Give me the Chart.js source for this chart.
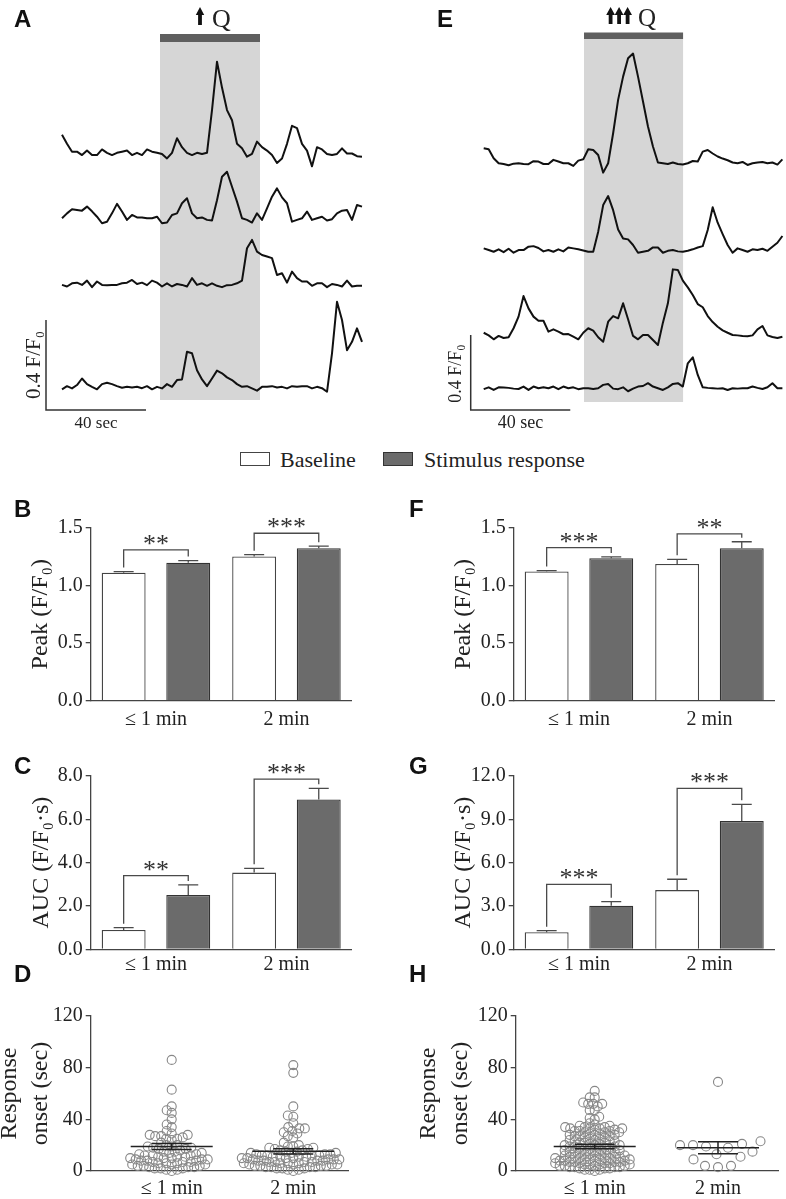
<!DOCTYPE html>
<html>
<head>
<meta charset="utf-8">
<title>Calcium responses to Q</title>
<script src="https://cdn.jsdelivr.net/npm/chart.js@4/dist/chart.umd.min.js"></script>
<style>
  html, body { margin: 0; padding: 0; background: #fff; }
  #fig { position: relative; width: 786px; height: 1199px; overflow: hidden; font-family: "Liberation Serif", "Times New Roman", serif; color: #222; }
  #fig canvas { position: absolute; }
  .tag { position: absolute; font: bold 24px "Liberation Sans", Arial, sans-serif; line-height: 24px; color: #111; }
  .key { position: absolute; top: 449px; font-size: 22px; line-height: 22px; white-space: nowrap; }
  .swatch { position: absolute; top: 452px; width: 30px; height: 14px; box-sizing: border-box; }
</style>
</head>
<body>
<div id="fig">
  <canvas id="tracesWeak" width="393" height="440" style="left:0;top:0"></canvas>
  <canvas id="tracesStrong" width="393" height="440" style="left:393px;top:0"></canvas>
  <canvas id="peakWeak" width="393" height="240" style="left:0;top:490px"></canvas>
  <canvas id="peakStrong" width="393" height="240" style="left:393px;top:490px"></canvas>
  <canvas id="aucWeak" width="393" height="240" style="left:0;top:740px"></canvas>
  <canvas id="aucStrong" width="393" height="240" style="left:393px;top:740px"></canvas>
  <canvas id="onsetWeak" width="393" height="214" style="left:0;top:985px"></canvas>
  <canvas id="onsetStrong" width="393" height="214" style="left:393px;top:985px"></canvas>

  <div class="tag" style="left:14px;top:7px">A</div>
  <div class="tag" style="left:437px;top:7px">E</div>
  <div class="tag" style="left:14px;top:497px">B</div>
  <div class="tag" style="left:409px;top:497px">F</div>
  <div class="tag" style="left:14px;top:754px">C</div>
  <div class="tag" style="left:409px;top:754px">G</div>
  <div class="tag" style="left:14px;top:962px">D</div>
  <div class="tag" style="left:409px;top:962px">H</div>

  <div class="swatch" style="left:240px;background:#fff;border:1.3px solid #444"></div>
  <div class="key" style="left:280px">Baseline</div>
  <div class="swatch" style="left:383px;background:#6b6b6b;border:1.3px solid #333"></div>
  <div class="key" style="left:424px">Stimulus response</div>
</div>

<script>
// ---- data ----

const groups = ['≤ 1 min', '2 min'];

// trace sample clock (sec)
const sampleTimes = [0, 2, 4, 6, 8, 10, 12, 14, 16, 18, 20, 22, 24, 26, 28, 30, 32, 34, 36, 38, 40,
  42, 44, 46, 48, 50, 52, 54, 56, 58, 60, 62, 64, 66, 68, 70, 72, 74, 76, 78, 80,
  82, 84, 86, 88, 90, 92, 94, 96, 98, 100, 102, 104, 106, 108, 110, 112, 114, 116, 118, 120];

// A: weak Q, dF/F0 of four cells
const traceA1 = [0.09, 0.05, 0.015, 0.015, 0, 0.02, 0, 0, 0.025, 0.01, 0, 0.01, 0.015, 0.02, 0, 0.01, 0, 0.025, 0.015, 0.01,
  0.005, -0.015, 0.01, 0.075, 0.035, 0.01, 0, 0.01, 0.005, 0.01, 0.2, 0.415, 0.3, 0.2, 0.155, 0.05, 0.03, -0.007, 0.005, 0.06,
  0.035, 0.02, 0, -0.035, -0.015, 0.05, 0.13, 0.12, 0.05, 0.02, -0.05, 0.035, 0.025, 0.005, 0, 0.005, 0.03, 0.007, 0.007, -0.005, -0.007];
const traceA2 = [0, 0.022, 0.04, 0.037, 0.034, 0.052, 0.031, 0.007, -0.022, -0.015, 0.022, 0.064, 0.03, -0.007, 0.015, 0.004, 0.004, 0, 0, 0.007,
  -0.022, -0.019, 0.015, 0.022, 0.067, 0.089, 0.022, 0, 0.004, -0.007, -0.01, 0.08, 0.185, 0.207, 0.14, 0.074, 0, -0.007, -0.019, 0.022,
  -0.007, 0.044, 0.096, 0.133, 0.093, 0.067, -0.015, -0.007, 0, 0.03, -0.007, 0, 0.007, -0.01, -0.004, 0.022, 0.034, 0.037, -0.007, 0.059, 0.052];
const traceA3 = [0, -0.007, 0.007, 0.01, 0, 0.019, -0.01, 0.015, 0, -0.001, 0, 0, 0.007, 0.01, 0.022, 0.004, 0.01, -0.001, 0.019, 0.01,
  -0.007, 0.007, -0.007, 0.004, 0, -0.007, 0.03, 0, 0.007, -0.004, 0.007, -0.004, -0.01, -0.001, 0, 0.007, 0.019, 0.163, 0.2, 0.148,
  0.133, 0.126, 0.119, 0.044, 0.052, 0.01, 0.059, 0.03, 0.015, 0.015, -0.004, 0.007, 0.007, -0.01, 0.004, 0, -0.007, 0.019, -0.007, -0.004, -0.004];
const traceA4 = [-0.004, 0.01, 0, 0.015, 0.044, 0.019, 0.007, -0.004, 0.019, 0.025, 0.019, 0.01, 0.003, 0.007, 0.004, 0.007, 0.001, 0.01, -0.004, 0.007,
  0, 0.019, 0.007, 0.037, 0.04, 0.163, 0.156, 0.081, 0.04, 0.01, 0.044, 0.079, 0.067, 0.049, 0.037, 0.019, 0.007, 0.01, 0, -0.01,
  0.007, 0.007, 0.01, 0.004, 0.007, 0, 0.01, 0.007, 0.01, 0.01, 0, 0.007, 0.001, -0.015, 0.156, 0.385, 0.304, 0.17, 0.207, 0.267, 0.207];

// E: strong Q
const traceE1 = [0.08, 0.075, 0.027, 0, -0.004, -0.011, -0.002, 0, -0.004, -0.005, 0.011, 0.009, -0.004, -0.004, 0.018, 0.009, 0, 0, -0.014, 0.014,
  0.021, 0.075, 0.071, 0.044, -0.05, 0, 0.16, 0.338, 0.462, 0.56, 0.585, 0.462, 0.329, 0.196, 0.089, 0.004, 0, -0.004, 0.004, -0.004,
  -0.007, 0, 0.012, 0.009, 0.062, 0.071, 0.052, 0.036, 0.025, 0.016, 0.004, 0, 0.007, -0.009, 0, 0.004, 0.007, 0, 0.004, -0.007, 0.021];
const traceE2 = [0.009, 0, -0.009, 0.004, -0.011, 0.007, -0.014, 0, 0, 0.018, 0.021, 0.011, -0.007, 0, -0.009, 0.004, -0.007, 0.014, 0.009, 0.004,
  -0.002, -0.009, -0.009, 0.098, 0.24, 0.288, 0.213, 0.11, 0.062, 0.057, 0.027, -0.014, -0.009, -0.004, 0.014, 0.014, -0.014, -0.004, 0, -0.007,
  -0.009, -0.004, 0.004, 0.014, 0.021, 0.107, 0.228, 0.146, 0.085, 0.027, -0.014, 0.009, 0, -0.009, 0.004, 0, 0.007, -0.004, 0.018, 0.039, 0.075];
const traceE3 = [0.012, -0.002, -0.023, -0.005, -0.016, -0.012, 0.036, 0.098, 0.208, 0.142, 0.098, 0.076, 0.076, 0.018, 0.03, 0.018, 0.004, 0.005, -0.009, -0.023,
  0.012, 0.036, 0.023, -0.012, -0.036, 0.071, 0.101, 0.089, 0.169, 0.084, -0.005, -0.023, 0, 0, -0.027, -0.053, 0.066, 0.169, 0.35, 0.347,
  0.29, 0.254, 0.213, 0.165, 0.148, 0.101, 0.069, 0.044, 0.025, 0.012, 0, -0.002, -0.005, -0.007, -0.002, 0.03, 0.048, -0.002, -0.011, -0.016, -0.009];
const traceE4 = [-0.005, 0.005, -0.009, 0.005, 0.004, 0.002, -0.002, -0.004, 0.009, -0.009, 0.009, 0, 0.005, 0, 0.009, -0.005, 0.009, 0, 0.005, -0.005,
  0, 0, -0.004, 0, 0.018, 0.023, -0.002, -0.005, 0.005, -0.016, -0.002, 0.009, 0.012, 0.027, 0.009, 0, -0.009, 0.005, 0.023, 0.027,
  0.009, 0.133, 0.165, 0.071, 0.005, 0.002, 0, -0.002, 0, -0.009, 0, -0.002, 0, 0, 0.009, 0.002, -0.004, 0.005, 0.027, 0, 0];

// B / F: peak F/F0 (mean, SEM)
const peakWeakBase = [1.11, 1.25];
const peakWeakBaseSem = [0.01, 0.016];
const peakWeakStim = [1.197, 1.322];
const peakWeakStimSem = [0.018, 0.018];
const peakStrongBase = [1.12, 1.186];
const peakStrongBaseSem = [0.008, 0.04];
const peakStrongStim = [1.235, 1.322];
const peakStrongStimSem = [0.012, 0.056];

// C / G: AUC (F/F0·s)
const aucWeakBase = [0.89, 3.54];
const aucWeakBaseSem = [0.11, 0.2];
const aucWeakStim = [2.51, 6.92];
const aucWeakStimSem = [0.46, 0.51];
const aucStrongBase = [1.18, 4.1];
const aucStrongBaseSem = [0.11, 0.75];
const aucStrongStim = [3.02, 8.88];
const aucStrongStimSem = [0.28, 1.16];

// D / H: response onset (sec), one value per cell
const onsetWeak1 = [86, 63, 50, 47, 45, 40, 36, 34, 31, 29, 28, 28, 27, 27, 26, 25, 25, 24, 22, 20, 20, 19, 19, 18, 18, 17, 17, 16, 15, 15,
  14, 14, 13, 13, 12, 12, 12, 11, 11, 11, 10, 10, 10, 9, 9, 9, 8, 8, 8, 7, 7, 7, 6, 6, 6, 5, 5, 5, 4, 4, 4, 3, 3, 3, 2, 2, 2, 1, 1, 0];
const onsetWeak2 = [82, 76, 50, 43, 42, 37, 34, 33, 33, 31, 30, 29, 27, 26, 22, 20, 19, 19, 18, 18, 17, 17, 16, 16, 15, 15, 14, 14, 14, 13,
  13, 13, 12, 12, 12, 12, 11, 11, 11, 11, 10, 10, 10, 10, 9, 9, 9, 9, 8, 8, 8, 8, 7, 7, 7, 7, 6, 6, 6, 6, 5, 5, 5, 5, 4, 4, 4, 4,
  3, 3, 3, 3, 2, 2, 2, 1, 1, 0];
const onsetStrong1 = [62, 57, 57, 53, 52, 52, 52, 50, 47, 47, 42, 41, 40, 37, 36, 35, 35, 34, 34, 34, 33, 33, 33, 33, 32, 32, 31, 31, 31, 30,
  30, 30, 29, 29, 28, 28, 28, 27, 27, 27, 26, 26, 25, 25, 24, 24, 23, 23, 23, 22, 22, 22, 21, 21, 20, 20, 20, 19, 19, 19, 18, 18, 18,
  17, 17, 17, 16, 16, 16, 15, 15, 15, 14, 14, 14, 13, 13, 13, 12, 12, 12, 11, 11, 11, 11, 10, 10, 10, 10, 9, 9, 9, 9, 8, 8, 8, 8,
  7, 7, 7, 7, 6, 6, 6, 6, 5, 5, 5, 5, 4, 4, 4, 4, 3, 3, 3, 3, 2, 2, 2, 1, 1, 1, 0];
const onsetStrong2 = [69, 23, 21, 20, 20, 19, 18, 15, 13, 11, 9, 4, 4, 3];
const onsetWeakMean = [19, 15.2];
const onsetWeakSem = [2.3, 2];
const onsetStrongMean = [19, 18];
const onsetStrongSem = [1.7, 4.7];

// ---- drawing ----

const SERIF = '"Liberation Serif", "Times New Roman", serif';
Chart.defaults.font.family = SERIF;
Chart.defaults.color = '#222';

function drawArrow(ctx, cx, top, bottom, half) {
    ctx.beginPath();
    ctx.moveTo(cx, top);
    ctx.lineTo(cx + half, top + 8);
    ctx.lineTo(cx + 1.9, top + 8);
    ctx.lineTo(cx + 1.9, bottom);
    ctx.lineTo(cx - 1.9, bottom);
    ctx.lineTo(cx - 1.9, top + 8);
    ctx.lineTo(cx - half, top + 8);
    ctx.closePath();
    ctx.fill();
}

// stimulus window, scale bars and labels for trace panels
const traceDecor = {
    id: 'traceDecor',
    beforeDatasetsDraw(chart, args, o) {
        const { ctx, scales: { x } } = chart;
        const x0 = x.getPixelForValue(o.stim[0]), x1 = x.getPixelForValue(o.stim[1]);
        ctx.save();
        ctx.fillStyle = '#d6d6d6';
        ctx.fillRect(x0, o.shadeTop, x1 - x0, o.shadeBottom - o.shadeTop);
        ctx.fillStyle = '#5f5f5f';
        ctx.fillRect(x0, o.barTop, x1 - x0, o.barH);
        ctx.restore();
    },
    afterDatasetsDraw(chart, args, o) {
        const { ctx, scales: { x, y } } = chart;
        const bx = x.getPixelForValue(o.barT0), bx1 = x.getPixelForValue(o.barT0 + 40);
        const by = y.getPixelForValue(0), by1 = y.getPixelForValue(0.4);
        ctx.save();
        ctx.strokeStyle = '#333';
        ctx.lineWidth = 1.5;
        ctx.beginPath();
        ctx.moveTo(bx, by1); ctx.lineTo(bx, by); ctx.lineTo(bx1, by);
        ctx.stroke();

        ctx.fillStyle = '#222';
        ctx.textAlign = 'center';
        ctx.textBaseline = 'middle';
        ctx.font = `${o.timeSize}px ${SERIF}`;
        ctx.fillText('40 sec', (bx + bx1) / 2, o.timeY);
        ctx.save();
        ctx.translate(o.ampX, (by + by1) / 2 + o.ampShift);
        ctx.rotate(-Math.PI / 2);
        ctx.font = `${o.ampSize}px ${SERIF}`;
        ctx.fillText('0.4 F/F₀', 0, 0);
        ctx.restore();

        ctx.fillStyle = '#111';
        o.arrows.forEach(ax => drawArrow(ctx, ax, o.arrowTop, o.arrowBottom, o.arrowHalf));
        ctx.textAlign = 'left';
        ctx.textBaseline = 'alphabetic';
        ctx.font = `${o.qSize}px ${SERIF}`;
        ctx.fillStyle = '#222';
        ctx.fillText('Q', o.qX, o.qBase);
        ctx.restore();
    },
};

function buildTraces(id, traces, stack, range, decor) {
    const ctx = document.getElementById(id).getContext('2d');
    return new Chart(ctx, {
        type: 'line',
        data: {
            datasets: traces.map((vals, i) => ({
                data: sampleTimes.map((t, k) => ({ x: t, y: vals[k] + stack[i] })),
                borderColor: '#111', borderWidth: 2, pointRadius: 0, tension: 0,
                borderJoinStyle: 'round', fill: false,
            })),
        },
        options: {
            responsive: false, animation: false, events: [],
            layout: { padding: 0 },
            plugins: { legend: { display: false }, tooltip: { enabled: false }, traceDecor: decor },
            scales: {
                x: { type: 'linear', display: false, min: range.x[0], max: range.x[1] },
                y: { type: 'linear', display: false, min: range.y[0], max: range.y[1] },
            },
        },
        plugins: [traceDecor],
    });
}

// error bars + significance brackets
const barDecor = {
    id: 'barDecor',
    afterDatasetsDraw(chart, args, o) {
        const { ctx, scales: { y } } = chart;
        ctx.save();
        ctx.strokeStyle = '#4a4a4a';
        ctx.lineWidth = 1.3;
        const tops = chart.data.datasets.map((ds, i) => {
            const meta = chart.getDatasetMeta(i);
            return ds.data.map((v, j) => {
                const bx = meta.data[j].x;
                const top = y.getPixelForValue(v + ds.sem[j]);
                ctx.beginPath();
                ctx.moveTo(bx, y.getPixelForValue(v)); ctx.lineTo(bx, top);
                ctx.moveTo(bx - 10, top); ctx.lineTo(bx + 10, top);
                ctx.stroke();
                return { x: bx, top };
            });
        });
        ctx.fillStyle = '#333';
        ctx.font = `26px ${SERIF}`;
        ctx.textAlign = 'center';
        ctx.textBaseline = 'alphabetic';
        o.brackets.forEach((lvl, j) => {
            const a = tops[0][j], b = tops[1][j], yb = y.getPixelForValue(lvl);
            ctx.beginPath();
            ctx.moveTo(a.x, a.top - 4); ctx.lineTo(a.x, yb); ctx.lineTo(b.x, yb); ctx.lineTo(b.x, b.top - 4);
            ctx.stroke();
            ctx.fillText(o.stars[j], (a.x + b.x) / 2, yb + 2);
        });
        ctx.restore();
    },
};

function axisStyle(extra) {
    return Object.assign({
        border: { color: '#444', width: 1.3 },
    }, extra);
}

function buildBars(id, p) {
    const ctx = document.getElementById(id).getContext('2d');
    return new Chart(ctx, {
        type: 'bar',
        data: {
            labels: groups,
            datasets: [
                { label: 'Baseline', data: p.base, sem: p.baseSem, backgroundColor: '#fff', borderColor: '#444', borderWidth: 1.3 },
                { label: 'Stimulus response', data: p.stim, sem: p.stimSem, backgroundColor: '#6b6b6b', borderColor: '#333', borderWidth: 1.3 },
            ],
        },
        options: {
            responsive: false, animation: false, events: [],
            layout: { padding: { top: p.padTop, right: p.padRight, left: 0, bottom: 0 } },
            datasets: { bar: { categoryPercentage: 0.99, barPercentage: 0.68 } },
            plugins: { legend: { display: false }, tooltip: { enabled: false }, barDecor: { brackets: p.brackets, stars: p.stars } },
            scales: {
                x: axisStyle({
                    grid: { display: false, drawTicks: false },
                    ticks: { font: { size: 20 }, padding: p.labelPad, color: '#222' },
                    afterFit: s => { s.height = p.xH; },
                }),
                y: axisStyle({
                    min: 0, max: p.max,
                    grid: { drawOnChartArea: false, drawTicks: true, tickLength: 5, color: '#444', lineWidth: 1.3 },
                    ticks: { stepSize: p.step, font: { size: 20 }, padding: 3, color: '#222', callback: v => v.toFixed(1) },
                    title: { display: true, text: p.title, font: { size: 24, lineHeight: 1.3 }, color: '#222', padding: { top: p.titlePad, bottom: 0 } },
                    afterFit: s => { s.width = p.yW; },
                }),
            },
        },
        plugins: [barDecor],
    });
}

// mean ± SEM over the scatter
const onsetDecor = {
    id: 'onsetDecor',
    afterDatasetsDraw(chart, args, o) {
        const { ctx, scales: { x, y } } = chart;
        ctx.save();
        ctx.strokeStyle = '#222';
        ctx.lineWidth = 1.5;
        o.mean.forEach((m, g) => {
            const cx = x.getPixelForValue(g + 1), ym = y.getPixelForValue(m);
            const lo = y.getPixelForValue(m - o.sem[g]), hi = y.getPixelForValue(m + o.sem[g]);
            ctx.beginPath();
            ctx.moveTo(cx - 41, ym); ctx.lineTo(cx + 41, ym);
            ctx.moveTo(cx, lo); ctx.lineTo(cx, hi);
            ctx.moveTo(cx - 20, lo); ctx.lineTo(cx + 20, lo);
            ctx.moveTo(cx - 20, hi); ctx.lineTo(cx + 20, hi);
            ctx.stroke();
        });
        ctx.restore();
    },
};

// simple beeswarm: spread points sideways so circles don't pile up
function swarm(points, xs, ys, minDist) {
    const placed = [];
    points.slice().sort((a, b) => a.y - b.y).forEach(p => {
        const cx = xs.getPixelForValue(p.x), py = ys.getPixelForValue(p.y);
        for (let k = 0; k < 600; k++) {
            const px = cx + (k % 2 ? -1 : 1) * Math.ceil(k / 2) * 0.5;
            if (placed.every(q => (q[0] - px) ** 2 + (q[1] - py) ** 2 >= minDist * minDist)) {
                placed.push([px, py]);
                p.x = xs.getValueForPixel(px);
                break;
            }
        }
    });
}

function buildOnset(id, p) {
    const ctx = document.getElementById(id).getContext('2d');
    const chart = new Chart(ctx, {
        type: 'scatter',
        data: {
            datasets: p.sets.map((vals, g) => ({
                data: vals.map(v => ({ x: g + 1, y: v })),
                pointRadius: 4.5, pointBorderWidth: 1.1,
                pointBorderColor: '#878787', pointBackgroundColor: 'rgba(255,255,255,0)',
                showLine: false, clip: false,
            })),
        },
        options: {
            responsive: false, animation: false, events: [],
            layout: { padding: { top: p.padTop, right: p.padRight, left: 0, bottom: 0 } },
            plugins: { legend: { display: false }, tooltip: { enabled: false }, onsetDecor: { mean: p.mean, sem: p.sem } },
            scales: {
                x: axisStyle({
                    type: 'linear', min: p.xRange[0], max: p.xRange[1],
                    grid: { display: false, drawTicks: false },
                    afterBuildTicks: s => { s.ticks = [{ value: 1 }, { value: 2 }]; },
                    ticks: { autoSkip: false, maxRotation: 0, font: { size: 20 }, padding: 6, color: '#222', callback: v => groups[v - 1] },
                    afterFit: s => { s.height = p.xH; },
                }),
                y: axisStyle({
                    min: 0, max: 120,
                    grid: { drawOnChartArea: false, drawTicks: true, tickLength: 5, color: '#444', lineWidth: 1.3 },
                    ticks: { stepSize: 40, font: { size: 20 }, padding: 3, color: '#222' },
                    title: { display: true, text: ['Response', 'onset (sec)'], font: { size: 24, lineHeight: 1.3 }, color: '#222', padding: { top: p.titlePad, bottom: 0 } },
                    afterFit: s => { s.width = p.yW; },
                }),
            },
        },
        plugins: [onsetDecor],
    });
    chart.data.datasets.forEach((ds, g) => swarm(ds.data, chart.scales.x, chart.scales.y, p.spacing[g]));
    chart.update('none');
    return chart;
}

// ---- panels ----

buildTraces('tracesWeak', [traceA1, traceA2, traceA3, traceA4], [1.133, 0.852, 0.556, 0.096],
    { x: [-24.8, 132.4], y: [-0.1333, 1.8222] },
    { stim: [39.2, 79.2], shadeTop: 42, shadeBottom: 400, barTop: 34, barH: 8, barT0: -6.4,
      timeY: 423.5, timeSize: 17, ampX: 34, ampShift: 0, ampSize: 21,
      arrows: [200], arrowTop: 7, arrowBottom: 25, arrowHalf: 4.2, qX: 212, qBase: 27, qSize: 26 });

buildTraces('tracesStrong', [traceE1, traceE2, traceE3, traceE4], [1.316, 0.853, 0.4, 0.116],
    { x: [-36.44, 121.45], y: [-0.16, 2.1867] },
    { stim: [40.3, 80.1], shadeTop: 39, shadeBottom: 402, barTop: 32.5, barH: 6.5, barT0: -5.22,
      timeY: 423.5, timeSize: 18, ampX: 63.5, ampShift: 1, ampSize: 18,
      arrows: [217.6, 226.1, 234.6], arrowTop: 7, arrowBottom: 24, arrowHalf: 4.4, qX: 245, qBase: 26, qSize: 25 });

buildBars('peakWeak', {
    base: peakWeakBase, baseSem: peakWeakBaseSem, stim: peakWeakStim, stimSem: peakWeakStimSem,
    max: 1.5, step: 0.5, title: 'Peak (F/F₀)', brackets: [1.307, 1.452], stars: ['**', '***'],
    padTop: 37.7, padRight: 41.3, yW: 90.7, xH: 29.3, labelPad: 7, titlePad: 25.4,
});
buildBars('peakStrong', {
    base: peakStrongBase, baseSem: peakStrongBaseSem, stim: peakStrongStim, stimSem: peakStrongStimSem,
    max: 1.5, step: 0.5, title: 'Peak (F/F₀)', brackets: [1.327, 1.446], stars: ['***', '**'],
    padTop: 37.7, padRight: 11.3, yW: 120.7, xH: 29.3, labelPad: 7, titlePad: 55.4,
});
buildBars('aucWeak', {
    base: aucWeakBase, baseSem: aucWeakBaseSem, stim: aucWeakStim, stimSem: aucWeakStimSem,
    max: 8, step: 2, title: 'AUC (F/F₀·s)', brackets: [3.4, 7.86], stars: ['**', '***'],
    padTop: 36, padRight: 41.3, yW: 90.7, xH: 30.7, labelPad: 3, titlePad: 26.2,
});
buildBars('aucStrong', {
    base: aucStrongBase, baseSem: aucStrongBaseSem, stim: aucStrongStim, stimSem: aucStrongStimSem,
    max: 12, step: 3, title: 'AUC (F/F₀·s)', brackets: [4.5, 11.15], stars: ['***', '***'],
    padTop: 36, padRight: 11.3, yW: 120.7, xH: 30.7, labelPad: 3, titlePad: 55.4,
});

buildOnset('onsetWeak', {
    sets: [onsetWeak1, onsetWeak2], mean: onsetWeakMean, sem: onsetWeakSem, spacing: [5.6, 5.4],
    xRange: [0.3339, 2.4523], padTop: 31, padRight: 44.7, yW: 90.7, xH: 28, titlePad: -6.25,
});
buildOnset('onsetStrong', {
    sets: [onsetStrong1, onsetStrong2], mean: onsetStrongMean, sem: onsetStrongSem, spacing: [4.9, 13],
    xRange: [0.3593, 2.4866], padTop: 31, padRight: 8, yW: 122.7, xH: 28, titlePad: 20.45,
});
</script>
</body>
</html>
